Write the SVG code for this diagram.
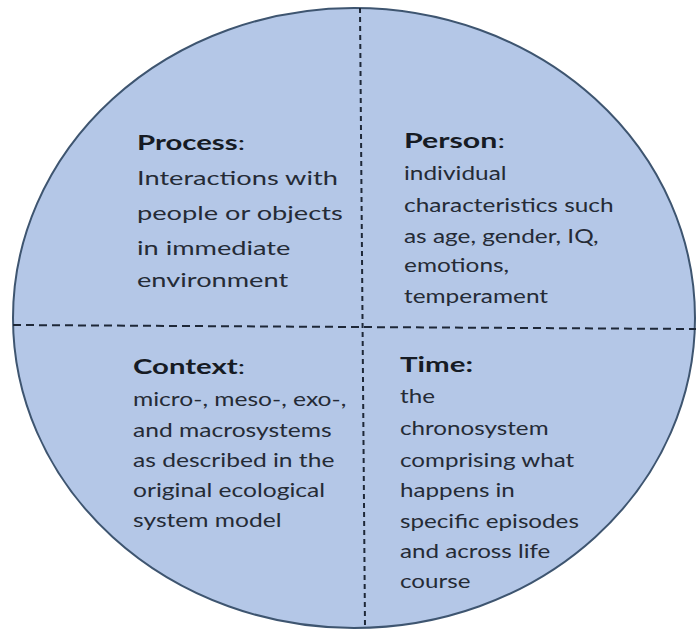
<svg xmlns="http://www.w3.org/2000/svg" width="696" height="630" viewBox="0 0 696 630">
<style>
.bg{fill:#ffffff}
.oval{fill:#b4c7e7;stroke:#3e5570;stroke-width:2}
.dh{stroke:#1e2838;stroke-width:2;stroke-dasharray:8 5;fill:none}
.dv{stroke:#1e2838;stroke-width:2;stroke-dasharray:5 4;fill:none}
text{font-family:Lato,"Open Sans","Liberation Sans",sans-serif;fill:#252b36;font-size:20px}
.h{font-weight:bold;fill:#161b24;font-size:20px}
.c{font-weight:normal}
</style>
<rect class="bg" x="0" y="0" width="696" height="630"/>
<g id="circle"><ellipse class="oval" cx="354" cy="318" rx="341" ry="310"/></g>
<g id="connectors">
<line class="dh" x1="13" y1="325" x2="696" y2="329"/>
<line class="dv" x1="360" y1="8" x2="365" y2="627"/>
</g>
<g id="process">
<text class="h" x="137" y="150" textLength="108" lengthAdjust="spacingAndGlyphs">Process<tspan class="c">:</tspan></text>
<g transform="translate(137,0) scale(1.36,1)">
<text x="0" y="185">Interactions with</text>
<text x="0" y="220">people or objects</text>
<text x="0" y="255">in immediate</text>
<text x="0" y="287">environment</text>
</g>
</g>
<g id="person">
<text class="h" x="404" y="148" textLength="101" lengthAdjust="spacingAndGlyphs">Person<tspan class="c">:</tspan></text>
<g transform="translate(404,0) scale(1.22,1)">
<text x="0" y="180">individual</text>
<text x="0" y="212">characteristics such</text>
<text x="0" y="243">as age, gender, IQ,</text>
<text x="0" y="272">emotions,</text>
<text x="0" y="303">temperament</text>
</g>
</g>
<g id="context">
<text class="h" x="133" y="374" textLength="112" lengthAdjust="spacingAndGlyphs">Context<tspan class="c">:</tspan></text>
<g transform="translate(133,0) scale(1.23,1)">
<text x="0" y="406">micro-, meso-, exo-,</text>
<text x="0" y="437">and macrosystems</text>
<text x="0" y="467">as described in the</text>
<text x="0" y="497">original ecological</text>
<text x="0" y="527">system model</text>
</g>
</g>
<g id="time">
<text class="h" x="400" y="372" textLength="73" lengthAdjust="spacingAndGlyphs">Time:</text>
<g transform="translate(400,0) scale(1.21,1)">
<text x="0" y="403">the</text>
<text x="0" y="435">chronosystem</text>
<text x="0" y="467">comprising what</text>
<text x="0" y="497">happens in</text>
<text x="0" y="528">specific episodes</text>
<text x="0" y="558">and across life</text>
<text x="0" y="588">course</text>
</g>
</g>
</svg>
